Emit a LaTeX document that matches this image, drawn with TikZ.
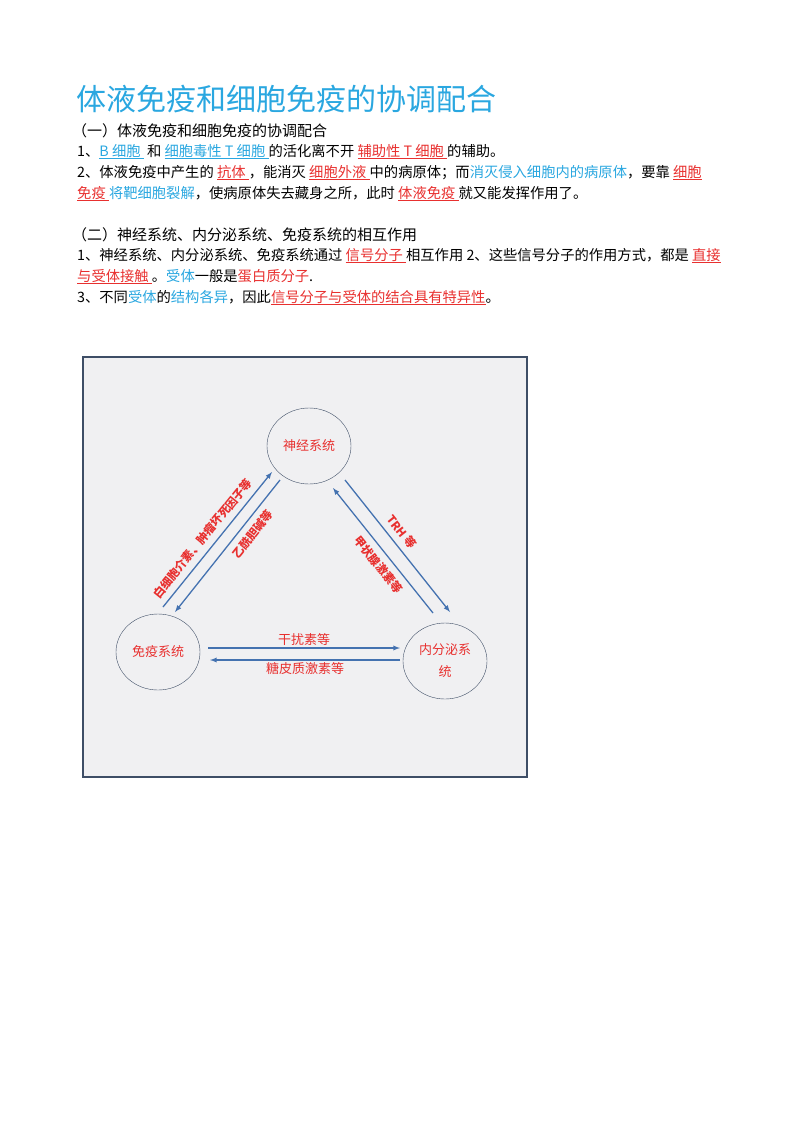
\documentclass[tikz,border=0pt]{standalone}
\usepackage{fontspec}
\setmainfont{Noto Sans CJK SC}
\usetikzlibrary{positioning, shapes.geometric}
\definecolor{skyblue}{HTML}{2AA7E0}
\definecolor{hotred}{HTML}{E8302F}
\definecolor{framegray}{HTML}{F0F0F2}
\definecolor{frameblue}{HTML}{3E4E66}
\definecolor{arrowblue}{HTML}{4472B0}
\newcommand{\bl}[1]{{\color{skyblue}#1}}
\newcommand{\rd}[1]{{\color{hotred}#1}}
\newcommand{\ulb}[1]{{\color{skyblue}\underline{#1}}}
\newcommand{\ulr}[1]{{\color{hotred}\underline{#1}}}
\tikzset{
    line/.style = {
        anchor = base west,
        inner sep = 0pt,
        font = \fontsize{14.3}{16}\selectfont
    },
    system/.style = {
        draw = frameblue,
        ellipse,
        minimum width = 84pt,
        minimum height = 76pt,
        text = hotred,
        align = center,
        font = \fontsize{13}{22}\selectfont
    },
    flow/.style = {
        draw = arrowblue,
        line width = 1.3pt,
        -latex
    },
    tag/.style = {
        text = hotred,
        font = \bfseries\fontsize{11.5}{14}\selectfont,
        inner sep = 1pt
    },
    plaintag/.style = {
        text = hotred,
        font = \fontsize{13}{15}\selectfont,
        inner sep = 2pt
    }
}
\begin{document}
\begin{tikzpicture}[x=1pt, y=-1pt]
    \useasboundingbox (0,0) rectangle (800,1132);
    % text part
    \node[line, text=skyblue, font=\fontsize{30}{34}\selectfont] (title) at (76,110) {体液免疫和细胞免疫的协调配合};
    \node[line, font=\fontsize{15}{18}\selectfont] (head1) at (72,136) {（一）体液免疫和细胞免疫的协调配合};
    \node[line] (l1) at (77,156) {1、\ulb{B 细胞 } 和 \ulb{细胞毒性 T 细胞 }的活化离不开 \ulr{辅助性 T 细胞 }的辅助。};
    \node[line] (l2) at (77,177) {2、体液免疫中产生的 \ulr{抗体 }，能消灭 \ulr{细胞外液 }中的病原体；而\bl{消灭侵入细胞内的病原体}，要靠 \ulr{细胞}};
    \node[line] (l3) at (77,198) {\ulr{免疫 }\bl{将靶细胞裂解}，使病原体失去藏身之所，此时 \ulr{体液免疫 }就又能发挥作用了。};
    \node[line, font=\fontsize{15}{18}\selectfont] (head2) at (72,240) {（二）神经系统、内分泌系统、免疫系统的相互作用};
    \node[line] (m1) at (77,260) {1、神经系统、内分泌系统、免疫系统通过 \ulr{信号分子 }相互作用 2、这些信号分子的作用方式，都是 \ulr{直接}};
    \node[line] (m2) at (77,281) {\ulr{与受体接触 }。\bl{受体}一般是\rd{蛋白质分子}.};
    \node[line] (m3) at (77,302) {3、不同\bl{受体}的\bl{结构各异}，因此\ulr{信号分子与受体的结合具有特异性}。};
    % diagram
    \draw[frameblue, line width=2.5pt, fill=framegray] (83,357) rectangle (527,777);
    \node[system] (nerve) at (309,446) {神经系统};
    \node[system] (immune) at (158,652) {免疫系统};
    \node[system] (endo) at (445,661) {内分泌系\\统};
    \draw[flow] (163,607) -- node[tag, sloped, above=5pt, pos=0.45] {白细胞介素、肿瘤坏死因子等} (272,472);
    \draw[flow] (280,480) -- node[tag, sloped, below=5pt, pos=0.35] {乙酰胆碱等} (175,612);
    \draw[flow] (345,480) -- node[tag, sloped, above=5pt, pos=0.45] {TRH 等} (450,612);
    \draw[flow] (433,613) -- node[tag, sloped, below=5pt, pos=0.45] {甲状腺激素等} (333,488);
    \draw[flow] (208,648) -- node[plaintag, above] {干扰素等} (400,648);
    \draw[flow] (400,660) -- node[plaintag, below] {糖皮质激素等} (210,660);
\end{tikzpicture}
\end{document}
